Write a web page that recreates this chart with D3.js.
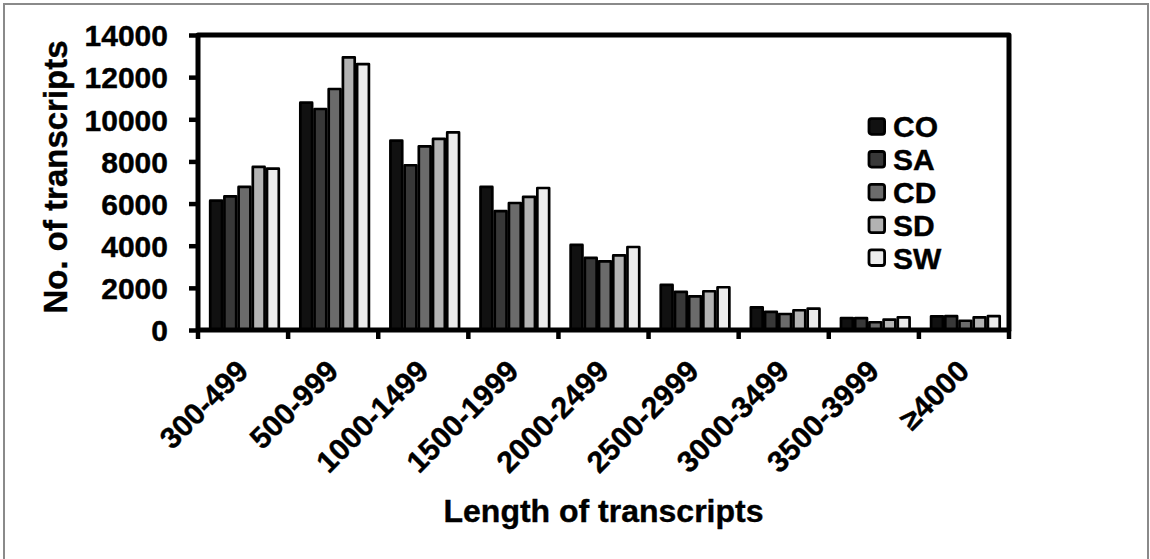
<!DOCTYPE html>
<html>
<head>
<meta charset="utf-8">
<script src="https://cdn.jsdelivr.net/npm/d3@7"></script>
<style>
  html, body { margin: 0; padding: 0; background: #fff; }
  svg { display: block; }
  text { font-family: "Liberation Sans", Arial, sans-serif; font-weight: bold; fill: #000; stroke: #000; stroke-width: 0.4px; }
</style>
</head>
<body>
<svg id="chart" width="1150" height="559"></svg>
<script>
const categories = ["300-499","500-999","1000-1499","1500-1999","2000-2499","2500-2999","3000-3499","3500-3999","≥4000"];
const seriesNames = ["CO","SA","CD","SD","SW"];
const CO = [6200, 10850, 9050, 6850, 4100, 2200, 1140, 630, 710];
const SA = [6400, 10550, 7880, 5700, 3480, 1870, 920, 630, 720];
const CD = [6850, 11500, 8780, 6090, 3320, 1660, 820, 430, 500];
const SD = [7800, 13000, 9130, 6380, 3600, 1900, 1000, 550, 660];
const SW = [7720, 12680, 9440, 6800, 4000, 2090, 1075, 660, 720];
const seriesColors = ["#111111", "#383838", "#6b6b6b", "#b3b3b3", "#ececec"];
const yTicks = [0, 2000, 4000, 6000, 8000, 10000, 12000, 14000];

const seriesValues = [CO, SA, CD, SD, SW];

const svg = d3.select("#chart");

// outer gray frame
svg.append("rect")
  .attr("x", 4).attr("y", 4).attr("width", 1144).attr("height", 700)
  .attr("fill", "none").attr("stroke", "#8a8a8a").attr("stroke-width", 2);

const plot = { left: 198, right: 1009, top: 35, bottom: 330 };

const x0 = d3.scaleBand().domain(categories).range([plot.left, plot.right]).padding(0);
const x1 = d3.scaleBand().domain(seriesNames).range([11, 82]).padding(0);
const y = d3.scaleLinear().domain([0, 14000]).range([plot.bottom, plot.top]);
const color = d3.scaleOrdinal().domain(seriesNames).range(seriesColors);

// bars
const groups = svg.append("g").selectAll("g")
  .data(categories)
  .join("g")
  .attr("transform", d => `translate(${x0(d)},0)`);

groups.selectAll("rect")
  .data((c, i) => seriesNames.map((s, j) => ({ s, v: seriesValues[j][i] })))
  .join("rect")
  .attr("x", d => x1(d.s) + 1.2)
  .attr("width", x1.bandwidth() - 2.4)
  .attr("y", d => y(d.v) + 1.3)
  .attr("height", d => Math.max(0, y(0) - y(d.v) - 1.3))
  .attr("fill", d => color(d.s))
  .attr("stroke", "#000")
  .attr("stroke-width", 2.7)
  .attr("stroke-linejoin", "round");

// frame
svg.append("rect")
  .attr("x", plot.left).attr("y", plot.top)
  .attr("width", plot.right - plot.left).attr("height", plot.bottom - plot.top)
  .attr("fill", "none").attr("stroke", "#000").attr("stroke-width", 5)
  .attr("stroke-linejoin", "round");

// y axis
const yAxis = d3.axisLeft(y).tickValues(yTicks).tickSize(9).tickPadding(21).tickFormat(d3.format("d"));
const gy = svg.append("g").attr("transform", `translate(${plot.left},0)`).call(yAxis);
gy.select(".domain").remove();
gy.selectAll(".tick line").attr("stroke", "#000").attr("stroke-width", 4.5);
gy.selectAll(".tick text").attr("font-size", 30).attr("font-family", "Liberation Sans, Arial, sans-serif")
  .attr("font-weight", "bold").attr("dy", "0.36em");

// x axis ticks at band boundaries
const boundaries = categories.map(c => x0(c)).concat([plot.right]);
svg.append("g").selectAll("line")
  .data(boundaries)
  .join("line")
  .attr("x1", d => d).attr("x2", d => d)
  .attr("y1", plot.bottom).attr("y2", plot.bottom + 9)
  .attr("stroke", "#000").attr("stroke-width", 4.5);

// x labels
svg.append("g").selectAll("text")
  .data(categories)
  .join("text")
  .attr("text-anchor", "end")
  .attr("font-size", 30)
  .attr("transform", d => `translate(${x0(d) + x0.bandwidth() / 2 + 7},${373}) rotate(-45)`)
  .text(d => d);

// axis titles
svg.append("text")
  .attr("text-anchor", "middle")
  .attr("font-size", 32)
  .attr("x", (plot.left + plot.right) / 2)
  .attr("y", 522)
  .text("Length of transcripts");

svg.append("text")
  .attr("text-anchor", "middle")
  .attr("font-size", 33)
  .attr("transform", `translate(67,177) rotate(-90)`)
  .text("No. of transcripts");

// legend
const legend = svg.append("g").selectAll("g")
  .data(seriesNames)
  .join("g")
  .attr("transform", (d, i) => `translate(869,${126.5 + i * 32.8})`);

legend.append("rect")
  .attr("x", 0).attr("y", -7.8)
  .attr("width", 15.6).attr("height", 15.6)
  .attr("rx", 2.5)
  .attr("fill", d => color(d))
  .attr("stroke", "#000").attr("stroke-width", 2.8);

legend.append("text")
  .attr("x", 24).attr("y", 0).attr("dy", "0.36em")
  .attr("font-size", 30)
  .text(d => d);
</script>
</body>
</html>
